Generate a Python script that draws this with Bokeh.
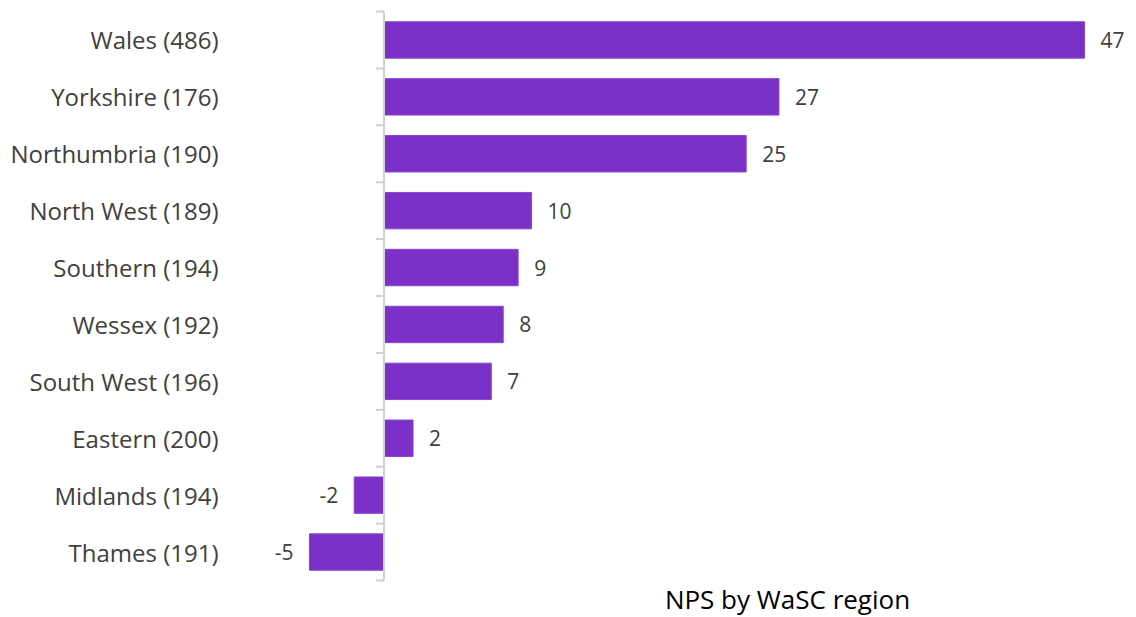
from bokeh.plotting import figure
from bokeh.models import Range1d, FixedTicker, ColumnDataSource
from bokeh.core.properties import value
from bokeh.embed import file_html
from bokeh.resources import INLINE

regions = ["Wales (486)", "Yorkshire (176)", "Northumbria (190)", "North West (189)",
           "Southern (194)", "Wessex (192)", "South West (196)", "Eastern (200)",
           "Midlands (194)", "Thames (191)"]
# bar lengths as drawn, and the value labels printed beside them
nps = [47, 26.5, 24.3, 9.9, 9.0, 8.0, 7.2, 1.95, -2.0, -5.0]
nps_labels = ["47", "27", "25", "10", "9", "8", "7", "2", "-2", "-5"]
title_text = "NPS by WaSC region"

W, H = 1136, 617
frame_left = 230
zero_px = 383.5
px_per_unit = (1084 - 383.5) / 47.0
top_px, bottom_px = 11, 580
n = len(regions)
pitch = (bottom_px - top_px) / n

x_start = -(zero_px - frame_left) / px_per_unit
x_end = (W - zero_px) / px_per_unit
y_top = -0.5 - top_px / pitch
y_bottom = n - 0.5 + (H - bottom_px) / pitch

font = "Open Sans"
txt_color = "#404040"
bar_color = "#7B30C8"

p = figure(width=W, height=H, output_backend="svg", toolbar_location=None,
           x_range=Range1d(x_start, x_end), y_range=Range1d(y_bottom, y_top),
           min_border_left=frame_left, min_border_right=0, min_border_top=0,
           min_border_bottom=0)
p.outline_line_color = None
p.xgrid.visible = False
p.ygrid.visible = False
p.xaxis.visible = False
p.background_fill_color = "white"
p.border_fill_color = "white"

ypos = list(range(n))
src = ColumnDataSource(dict(y=ypos, v=nps, name=regions))
p.hbar(y="y", left=0, right="v", height=0.64, source=src,
       fill_color=bar_color, line_color="#8A45D0", line_width=1)

# zero axis line and ticks at category boundaries
bounds = [i - 0.5 for i in range(n + 1)]
axis_col = "#D0D0D0"
p.segment(x0=[0], x1=[0], y0=[bounds[0]], y1=[bounds[-1]], line_color=axis_col, line_width=2)
p.segment(x0=[-8 / px_per_unit] * len(bounds), x1=[0] * len(bounds), y0=bounds, y1=bounds,
          line_color=axis_col, line_width=2)

# category labels via y-axis
yax = p.yaxis[0]
yax.ticker = FixedTicker(ticks=ypos)
yax.major_label_overrides = {i: r for i, r in enumerate(regions)}
yax.axis_line_color = None
yax.major_tick_line_color = None
yax.minor_tick_line_color = None
yax.major_label_standoff = 6
yax.major_label_text_font = font
yax.major_label_text_font_size = "24px"
yax.major_label_text_color = txt_color

# value labels
pos = [(y, v, t) for y, v, t in zip(ypos, nps, nps_labels) if v >= 0]
neg = [(y, v, t) for y, v, t in zip(ypos, nps, nps_labels) if v < 0]
p.text(x=[v for _, v, _ in pos], y=[y for y, _, _ in pos], text=[t for _, _, t in pos],
       x_offset=16, text_align="left", text_baseline="middle",
       text_font=value(font), text_font_size="21px", text_color=txt_color)
p.text(x=[v for _, v, _ in neg], y=[y for y, _, _ in neg], text=[t for _, _, t in neg],
       x_offset=-16, text_align="right", text_baseline="middle",
       text_font=value(font), text_font_size="21px", text_color=txt_color)

# chart title at the bottom
title_x = (787 - zero_px) / px_per_unit
title_y = n - 0.5 + (598 - bottom_px) / pitch
p.text(x=[title_x], y=[title_y], text=[title_text], text_align="center",
       text_baseline="middle", text_font=value(font), text_font_size="26px",
       text_color="#000000")

open("out.html", "w").write(file_html(p, INLINE))
